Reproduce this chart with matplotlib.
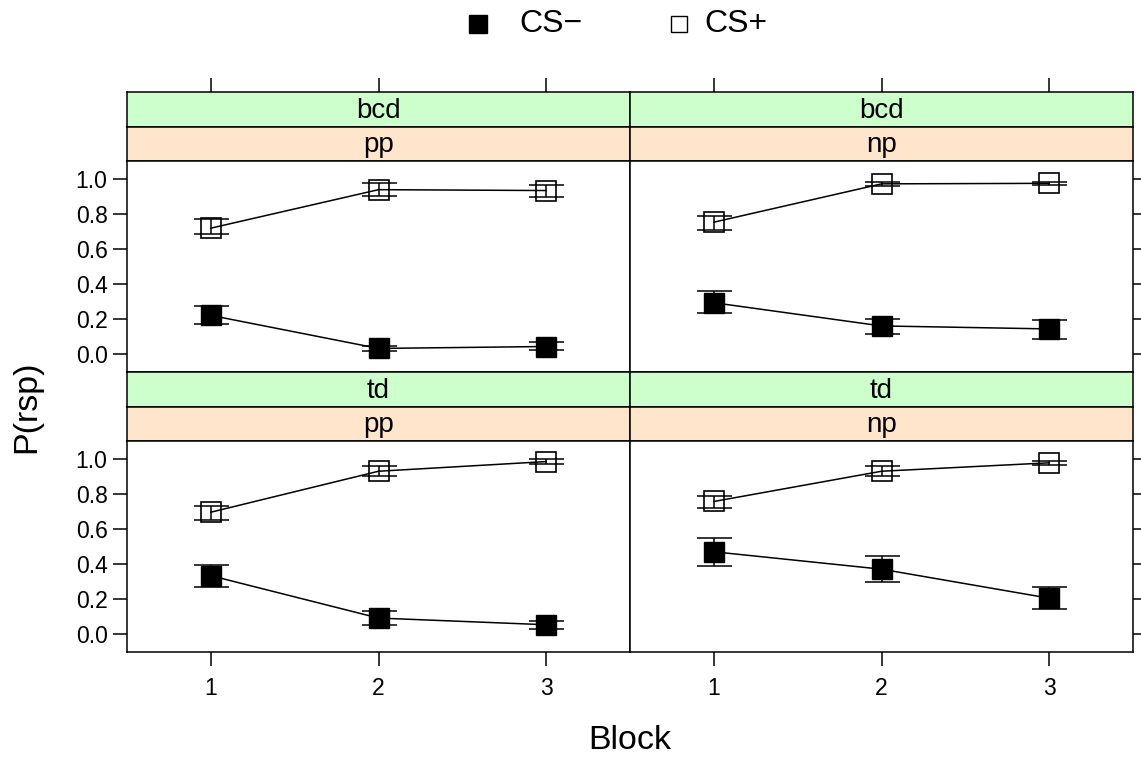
import matplotlib
matplotlib.use("Agg")
import matplotlib.pyplot as plt
from matplotlib.lines import Line2D
import numpy as np

plt.rcParams["font.family"] = ["Liberation Sans", "DejaVu Sans"]

blocks = [1, 2, 3]

# CS+ (open squares) and CS- (filled squares): estimate, lower, upper
bcd_pp_plus = [0.718, 0.937, 0.932]
bcd_pp_plus_lo = [0.686, 0.903, 0.898]
bcd_pp_plus_hi = [0.770, 0.975, 0.964]
bcd_pp_minus = [0.222, 0.034, 0.045]
bcd_pp_minus_lo = [0.174, 0.019, 0.023]
bcd_pp_minus_hi = [0.274, 0.047, 0.070]

bcd_np_plus = [0.752, 0.970, 0.973]
bcd_np_plus_lo = [0.710, 0.955, 0.964]
bcd_np_plus_hi = [0.788, 0.983, 0.983]
bcd_np_minus = [0.294, 0.162, 0.145]
bcd_np_minus_lo = [0.235, 0.114, 0.089]
bcd_np_minus_hi = [0.358, 0.203, 0.197]

td_pp_plus = [0.695, 0.928, 0.983]
td_pp_plus_lo = [0.648, 0.899, 0.970]
td_pp_plus_hi = [0.733, 0.960, 0.998]
td_pp_minus = [0.334, 0.093, 0.055]
td_pp_minus_lo = [0.271, 0.055, 0.028]
td_pp_minus_hi = [0.395, 0.131, 0.076]

td_np_plus = [0.756, 0.928, 0.976]
td_np_plus_lo = [0.720, 0.899, 0.964]
td_np_plus_hi = [0.786, 0.956, 0.985]
td_np_minus = [0.470, 0.371, 0.206]
td_np_minus_lo = [0.388, 0.297, 0.142]
td_np_minus_hi = [0.549, 0.445, 0.269]

yticks = [0.0, 0.2, 0.4, 0.6, 0.8, 1.0]
ytick_labels = ["0.0", "0.2", "0.4", "0.6", "0.8", "1.0"]
legend_labels = ["CS\u2212", "CS+"]

panels = [
    # (row, col, outer strip, inner strip, data)
    (0, 0, "bcd", "pp", (bcd_pp_minus, bcd_pp_minus_lo, bcd_pp_minus_hi,
                         bcd_pp_plus, bcd_pp_plus_lo, bcd_pp_plus_hi)),
    (0, 1, "bcd", "np", (bcd_np_minus, bcd_np_minus_lo, bcd_np_minus_hi,
                         bcd_np_plus, bcd_np_plus_lo, bcd_np_plus_hi)),
    (1, 0, "td", "pp", (td_pp_minus, td_pp_minus_lo, td_pp_minus_hi,
                        td_pp_plus, td_pp_plus_lo, td_pp_plus_hi)),
    (1, 1, "td", "np", (td_np_minus, td_np_minus_lo, td_np_minus_hi,
                        td_np_plus, td_np_plus_lo, td_np_plus_hi)),
]

W, H = 1141, 758
fig = plt.figure(figsize=(W / 100, H / 100), dpi=100)

green = "#CCFFCC"
peach = "#FFE5CC"
lw = 1.1
tick_len = 10
strip_fs = 20
tick_fs = 16.5

col_x = [127, 630]
col_w = 503
row_top = [92, 372]
strip_h = 34.5
plot_h = 211


def fr(x, y, w, h):
    return [x / W, 1 - (y + h) / H, w / W, h / H]


def draw_series(ax, est, lo, hi, filled):
    est = np.array(est)
    yerr = [est - np.array(lo), np.array(hi) - est]
    if filled:
        ax.errorbar(blocks, est, yerr=yerr, fmt="none", ecolor="black",
                    elinewidth=lw, capsize=12.6, capthick=lw, zorder=2)
        ax.plot(blocks, est, color="black", lw=lw, marker="s", ms=15,
                mfc="black", mec="black", zorder=3)
    else:
        ax.plot(blocks, est, color="black", lw=lw, marker="s", ms=15,
                mfc="none", mec="black", mew=1.2, zorder=2)
        ax.errorbar(blocks, est, yerr=yerr, fmt="none", ecolor="black",
                    elinewidth=lw, capsize=12.6, capthick=lw, zorder=3)


for row, col, outer, inner, data in panels:
    x0 = col_x[col]
    y0 = row_top[row]
    # strips
    s1 = fig.add_axes(fr(x0, y0, col_w, strip_h))
    s2 = fig.add_axes(fr(x0, y0 + strip_h, col_w, strip_h))
    for s, label, color in [(s1, outer, green), (s2, inner, peach)]:
        s.set_facecolor(color)
        s.set_xlim(0.5, 3.5)
        s.set_ylim(0, 1)
        s.set_yticks([])
        s.set_xticks([])
        s.text(2, 0.45, label, ha="center", va="center", fontsize=strip_fs)
        for sp in s.spines.values():
            sp.set_linewidth(lw)
    if row == 0:
        s1.set_xticks(blocks)
        s1.tick_params(axis="x", top=True, bottom=False, labeltop=False,
                       labelbottom=False, direction="out", length=tick_len,
                       width=lw)

    ax = fig.add_axes(fr(x0, y0 + 2 * strip_h, col_w, plot_h))
    ax.set_xlim(0.5, 3.5)
    ax.set_ylim(-0.1, 1.1)
    m, m_lo, m_hi, p, p_lo, p_hi = data
    draw_series(ax, p, p_lo, p_hi, filled=False)
    draw_series(ax, m, m_lo, m_hi, filled=True)

    for sp in ax.spines.values():
        sp.set_linewidth(lw)

    ax.set_yticks(yticks)
    if col == 0:
        ax.set_yticklabels(ytick_labels)
        ax.tick_params(axis="y", left=True, right=False, labelleft=True,
                       direction="out", length=tick_len, width=lw,
                       labelsize=tick_fs, pad=4)
    else:
        ax.tick_params(axis="y", left=False, right=True, labelleft=False,
                       labelright=False, direction="out", length=tick_len,
                       width=lw)

    ax.set_xticks(blocks)
    if row == 1:
        ax.set_xticklabels([str(b) for b in blocks])
        ax.tick_params(axis="x", bottom=True, labelbottom=True,
                       direction="out", length=tick_len, width=lw,
                       labelsize=tick_fs, pad=8)
    else:
        ax.tick_params(axis="x", bottom=False, labelbottom=False)

fig.text(630 / W, 1 - 749 / H, "Block", ha="center", va="baseline",
         fontsize=24.5)
fig.text(27 / W, 1 - 407 / H, "P(rsp)", ha="center", va="center",
         rotation=90, fontsize=24.5)

# key at the top
key_y = 1 - 24 / H
fig.add_artist(Line2D([478 / W], [key_y], ls="none", marker="s", ms=13,
                      mfc="black", mec="black", transform=fig.transFigure))
fig.add_artist(Line2D([679 / W], [key_y], ls="none", marker="s", ms=12,
                      mfc="none", mec="black", mew=1.0,
                      transform=fig.transFigure))
fig.text(519 / W, key_y, legend_labels[0], ha="left", va="center",
         fontsize=23)
fig.text(704 / W, key_y, legend_labels[1], ha="left", va="center",
         fontsize=23)

fig.savefig("out.png", dpi=100)
